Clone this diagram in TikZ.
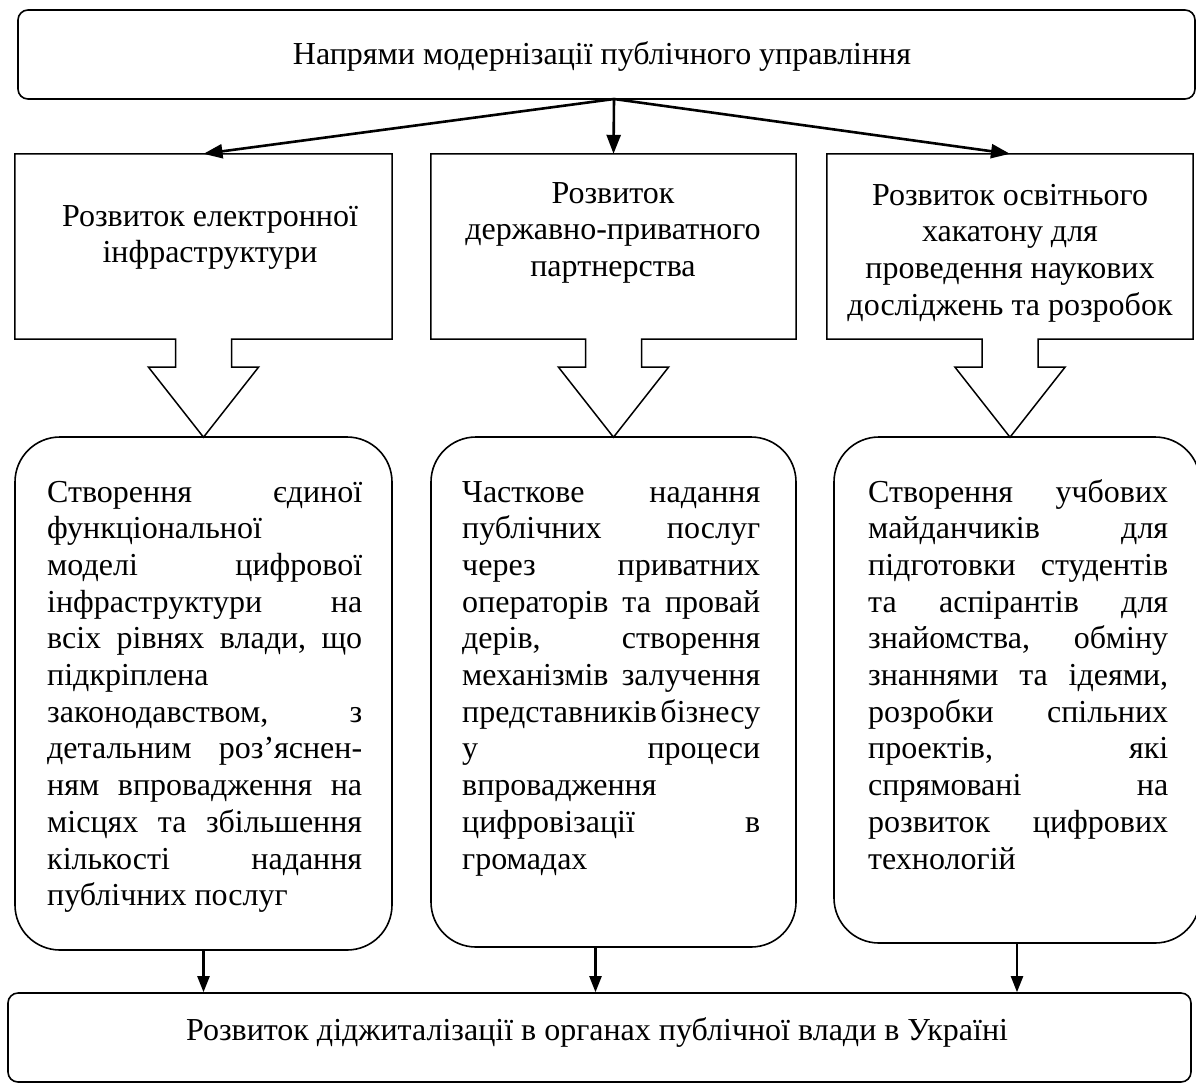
\documentclass[tikz,border=0pt]{standalone}
\usepackage{fontspec}
\setmainfont{Liberation Serif}
\usetikzlibrary{arrows.meta,calc}
\newcommand\cln[1]{\hbox to \linewidth{\hfil#1\hfil}}
\newcommand\jln[1]{\hbox to \linewidth{#1}}
\newcommand\tblock[2]{\parbox[t]{#1}{\baselineskip=36.7pt\lineskiplimit=-100pt\parskip=0pt #2}}
\tikzset{
  outl/.style={line width=1.5pt, line join=miter},
  frame/.style={draw, line width=1.6pt, inner sep=0pt},
  ghost/.style={inner sep=0pt},
  txt/.style={inner sep=0pt, font=\fontsize{32}{36.7}\selectfont},
  conn/.style={line width=2.6pt, -{Triangle[length=19pt,width=14pt]}},
  connb/.style={line width=2.2pt, -{Triangle[length=16pt,width=12pt]}}
}
\begin{document}
\begin{tikzpicture}[x=1pt,y=-1pt]
\useasboundingbox[fill=white] (0,0) rectangle (1196,1085);

% top box
\node[frame, rounded corners=10pt, minimum width=1177pt, minimum height=89pt] (tb) at (606.5,54.5) {};
\node[txt, anchor=base] (tt) at (602,64) {Напрями модернізації публічного управління};

% upper boxes (outline drawn with block arrow)
\node[ghost, minimum width=377pt, minimum height=185pt] (ub1) at (203.5,246.5) {};
\node[ghost, minimum width=365pt, minimum height=185pt] (ub2) at (613.5,246.5) {};
\node[ghost, minimum width=366pt, minimum height=185pt] (ub3) at (1010,246.5) {};

\foreach \b in {ub1,ub2,ub3}{
  \draw[outl] ($(\b.south)+(-28,0)$) -- (\b.south west) -- (\b.north west) -- (\b.north east) -- (\b.south east)
    -- ($(\b.south)+(28,0)$) -- ++(0,28) -- ++(27,0) -- ($(\b.south)+(0,98)$) -- ++(-55,-70) -- ++(27,0) -- cycle;
}

\node[txt, anchor=base] (ut1) at (210,226) {\tblock{340pt}{\cln{Розвиток електронної}\cln{інфраструктури}}};
\node[txt, anchor=base] (ut2) at (613,203) {\tblock{340pt}{\cln{Розвиток}\cln{державно-приватного}\cln{партнерства}}};
\node[txt, anchor=base] (ut3) at (1010,205) {\tblock{340pt}{\cln{Розвиток освітнього}\cln{хакатону для}\cln{проведення наукових}\cln{досліджень та розробок}}};

% lower boxes
\node[frame, rounded corners=45pt, minimum width=377pt, minimum height=513pt] (lb1) at (203.5,693.5) {};
\node[frame, rounded corners=45pt, minimum width=365pt, minimum height=510pt] (lb2) at (613.5,692) {};
\node[frame, rounded corners=45pt, minimum width=366pt, minimum height=506pt] (lb3) at (1017,690) {};

\node[txt, anchor=base west] (lt1) at (47,502) {\tblock{315pt}{%
\jln{Створення\hfill єдиної}
\jln{функціональної\hfill}
\jln{моделі\hfill цифрової}
\jln{інфраструктури\hfill на}
\jln{всіх\hfill рівнях\hfill влади,\hfill що}
\jln{підкріплена\hfill}
\jln{законодавством,\hfill з}
\jln{детальним\hfill роз’яснен-}
\jln{ням\hfill впровадження\hfill на}
\jln{місцях\hfill та\hfill збільшення}
\jln{кількості\hfill надання}
\jln{публічних послуг\hfill}}};

\node[txt, anchor=base west] (lt2) at (462,502) {\tblock{298pt}{%
\jln{Часткове\hfill надання}
\jln{публічних\hfill послуг}
\jln{через\hfill приватних}
\jln{операторів\hfill та\hfill провай}
\jln{дерів,\hfill створення}
\jln{механізмів\hfill залучення}
\jln{представників\hfill бізнесу}
\jln{у\hfill процеси}
\jln{впровадження\hfill}
\jln{цифровізації\hfill в}
\jln{громадах\hfill}}};

\node[txt, anchor=base west] (lt3) at (868,502) {\tblock{300pt}{%
\jln{Створення\hfill учбових}
\jln{майданчиків\hfill для}
\jln{підготовки\hfill студентів}
\jln{та\hfill аспірантів\hfill для}
\jln{знайомства,\hfill обміну}
\jln{знаннями\hfill та\hfill ідеями,}
\jln{розробки\hfill спільних}
\jln{проектів,\hfill які}
\jln{спрямовані\hfill на}
\jln{розвиток\hfill цифрових}
\jln{технологій\hfill}}};

% bottom box
\node[frame, rounded corners=10pt, minimum width=1183pt, minimum height=89pt] (bb) at (599.5,1037.5) {};
\node[txt, anchor=base] (bt) at (597,1040) {Розвиток діджиталізації в органах публічної влади в Україні};

% connectors
\coordinate (src) at (614,99);
\draw[conn] (src) -- (ub1.north);
\draw[conn] (src) -- (ub2.north);
\draw[conn] (src) -- (ub3.north);

\coordinate (c2) at ($(lb2.south)+(-18,0)$);
\draw[connb] (lb1.south) -- (lb1.south |- bb.north);
\draw[connb] (c2) -- (c2 |- bb.north);
\draw[connb] (lb3.south) -- (lb3.south |- bb.north);
\end{tikzpicture}
\end{document}
